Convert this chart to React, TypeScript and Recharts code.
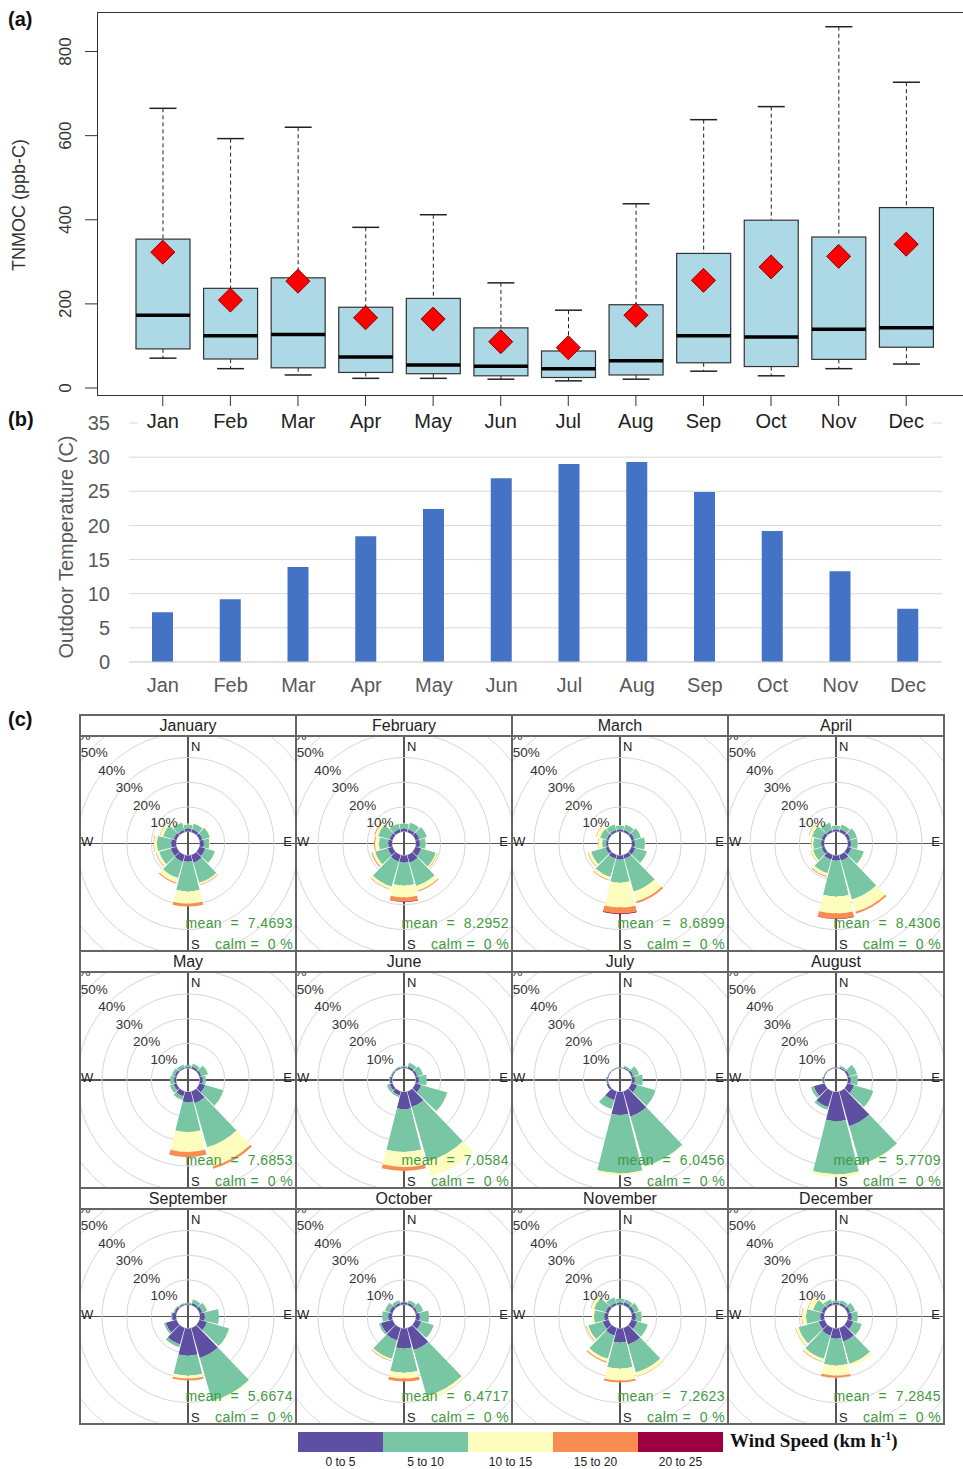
import React from 'react';
import {
  ComposedChart,
  Bar,
  Line,
  XAxis,
  YAxis,
  BarChart,
  CartesianGrid,
  RadialBarChart,
  RadialBar,
  PolarGrid,
  PolarAngleAxis,
  PolarRadiusAxis,
} from 'recharts';

const FONT = "'Liberation Sans', Arial, Helvetica, sans-serif";

const MONTHS = ['Jan', 'Feb', 'Mar', 'Apr', 'May', 'Jun', 'Jul', 'Aug', 'Sep', 'Oct', 'Nov', 'Dec'];
const MONTH_NAMES = [
  'January', 'February', 'March', 'April', 'May', 'June',
  'July', 'August', 'September', 'October', 'November', 'December',
];

// (a) TNMOC distribution per month (ppb-C)
const TNMOC_LOW = [71, 46, 31, 23, 23, 21, 17, 21, 40, 29, 46, 57];
const TNMOC_Q1 = [93, 69, 48, 37, 34, 29, 25, 31, 60, 51, 68, 97];
const TNMOC_MEDIAN = [173, 124, 127, 74, 55, 52, 46, 65, 124, 121, 140, 143];
const TNMOC_Q3 = [354, 237, 262, 192, 213, 143, 88, 198, 320, 399, 359, 429];
const TNMOC_HIGH = [665, 593, 620, 382, 412, 250, 185, 438, 638, 669, 859, 727];
const TNMOC_MEAN = [323, 209, 254, 167, 164, 110, 96, 173, 256, 288, 313, 342];
const TNMOC_TICKS = [0, 200, 400, 600, 800];

// (b) outdoor temperature (C)
const TEMPERATURE = [7.3, 9.2, 13.9, 18.4, 22.4, 26.9, 29.0, 29.3, 24.9, 19.2, 13.3, 7.8];
const TEMP_TICKS = [0, 5, 10, 15, 20, 25, 30, 35];

// (c) wind roses, 30 degree sectors, % of time per speed class
const ROSE_DIRS = ['N', 'NNE', 'ENE', 'E', 'ESE', 'SSE', 'S', 'SSW', 'WSW', 'W', 'WNW', 'NNW'];
const SPEED_BINS = ['0 to 5', '5 to 10', '10 to 15', '15 to 20', '20 to 25'];
const SPEED_COLORS = ['#5E4FA2', '#78C6A3', '#FDFDBD', '#F88D52', '#9E0142'];

const JAN_ROSE = [
  [1.2, 1.2, 1.2, 1.6, 2.4, 3.2, 2.4, 2.8, 2.4, 2.0, 1.2, 0.8],
  [1.6, 2.4, 3.2, 2.2, 4.1, 8.5, 12.2, 6.9, 4.9, 5.7, 4.5, 3.2],
  [0.4, 0.4, 0.4, 0.3, 0.4, 0.8, 4.9, 2.0, 1.2, 1.2, 1.2, 0.8],
  [0, 0, 0, 0, 0, 0.2, 1.2, 0.4, 0.2, 0.2, 0.2, 0],
  [0, 0, 0, 0, 0, 0, 0, 0, 0, 0, 0, 0],
];
const FEB_ROSE = [
  [1.2, 1.2, 1.6, 1.6, 2.4, 3.2, 2.8, 2.8, 2.0, 1.6, 1.2, 1.2],
  [2.0, 2.8, 3.2, 2.4, 6.1, 9.8, 9.4, 10.5, 5.3, 3.7, 4.9, 2.4],
  [0.2, 0.2, 0.2, 0.3, 0.6, 2.0, 4.8, 1.2, 1.2, 1.6, 1.2, 0.4],
  [0, 0, 0, 0, 0.2, 0.4, 1.7, 0.2, 0.4, 0.4, 0.4, 0],
  [0, 0, 0, 0, 0, 0, 0.2, 0, 0, 0, 0, 0],
];
const MAR_ROSE = [
  [0.8, 0.8, 1.2, 1.2, 1.6, 1.6, 1.6, 1.6, 1.2, 0.8, 0.8, 0.8],
  [1.6, 2.4, 2.8, 4.1, 4.9, 13.8, 9.4, 7.7, 6.1, 1.6, 2.8, 2.4],
  [0.2, 0.2, 0.2, 0.3, 0.4, 4.1, 10.1, 1.2, 1.2, 1.6, 1.6, 0.4],
  [0, 0, 0, 0, 0, 0.8, 2.4, 0.3, 0.2, 0.2, 0.2, 0],
  [0, 0, 0, 0, 0, 0, 0.3, 0, 0, 0, 0, 0],
];
const APR_ROSE = [
  [0.8, 1.2, 1.2, 1.2, 1.6, 2.4, 2.0, 2.0, 1.2, 1.2, 1.2, 0.8],
  [1.6, 2.0, 2.8, 2.8, 5.3, 16.3, 14.6, 5.7, 3.7, 3.2, 4.1, 3.2],
  [0.2, 0.2, 0.2, 0.2, 0.4, 5.2, 6.9, 1.2, 0.8, 0.8, 1.2, 0.4],
  [0, 0, 0, 0, 0, 0.8, 2.1, 0.4, 0.2, 0.2, 0.2, 0],
  [0, 0, 0, 0, 0, 0, 0.2, 0, 0, 0, 0, 0],
];
const MAY_ROSE = [
  [0.4, 0.8, 0.8, 1.2, 2.4, 4.9, 4.1, 2.0, 1.2, 0.8, 0.8, 0.4],
  [0.8, 1.2, 2.8, 1.2, 7.7, 18.6, 12.1, 1.6, 1.6, 1.6, 1.2, 1.2],
  [0, 0, 0.4, 0, 0.4, 8.1, 8.1, 0.2, 0, 0, 0, 0],
  [0, 0, 0, 0, 0, 0.9, 2.1, 0, 0, 0, 0, 0],
  [0, 0, 0, 0, 0, 0, 0, 0, 0, 0, 0, 0],
];
const JUN_ROSE = [
  [0.4, 0.8, 0.8, 1.2, 2.4, 6.5, 6.9, 1.6, 1.2, 0.8, 0.4, 0.4],
  [0.4, 1.6, 2.4, 3.2, 11.0, 23.1, 17.4, 0.8, 1.2, 0.4, 0.4, 0.4],
  [0, 0, 0, 0, 0.4, 6.1, 6.1, 0, 0, 0, 0, 0],
  [0, 0, 0, 0, 0, 0, 1.6, 0, 0, 0, 0, 0],
  [0, 0, 0, 0, 0, 0, 0, 0, 0, 0, 0, 0],
];
const JUL_ROSE = [
  [0.2, 0.4, 0.8, 1.2, 2.4, 10.5, 9.3, 3.7, 0.8, 0.4, 0.2, 0.2],
  [0.2, 0.8, 2.4, 3.2, 7.7, 21.1, 23.6, 3.7, 0, 0.4, 0.2, 0.2],
  [0, 0, 0, 0, 0, 0.4, 0.8, 0, 0, 0, 0, 0],
  [0, 0, 0, 0, 0, 0, 0, 0, 0, 0, 0, 0],
  [0, 0, 0, 0, 0, 0, 0, 0, 0, 0, 0, 0],
];
const AUG_ROSE = [
  [0.2, 0.4, 0.8, 1.2, 2.8, 14.6, 11.8, 6.5, 4.5, 0.4, 0.2, 0.2],
  [0.2, 0.8, 3.2, 2.8, 8.1, 16.2, 21.5, 1.2, 1.2, 0.4, 0.2, 0.2],
  [0, 0, 0, 0, 0, 0.4, 1.2, 0, 0, 0, 0, 0],
  [0, 0, 0, 0, 0, 0, 0, 0, 0, 0, 0, 0],
  [0, 0, 0, 0, 0, 0, 0, 0, 0, 0, 0, 0],
];
const SEP_ROSE = [
  [0.4, 0.8, 1.2, 2.0, 3.2, 12.6, 11.0, 6.9, 4.5, 1.6, 0.8, 0.4],
  [0.4, 1.6, 2.0, 5.7, 9.3, 18.2, 8.1, 1.2, 0.8, 0.4, 0.4, 0.4],
  [0, 0, 0, 0, 0.2, 0.8, 1.2, 0.2, 0, 0, 0, 0],
  [0, 0, 0, 0, 0, 0, 0.8, 0, 0, 0, 0, 0],
  [0, 0, 0, 0, 0, 0, 0, 0, 0, 0, 0, 0],
];
const OCT_ROSE = [
  [0.8, 0.8, 0.8, 1.6, 2.4, 9.3, 8.1, 5.3, 4.9, 1.6, 1.2, 0.8],
  [0.4, 1.2, 2.4, 3.7, 5.3, 19.5, 9.8, 7.7, 0.8, 2.4, 2.0, 1.2],
  [0, 0, 0, 0, 0.2, 1.2, 2.4, 0.8, 0, 0, 0, 0],
  [0, 0, 0, 0, 0, 0, 1.2, 0.2, 0, 0, 0, 0],
  [0, 0, 0, 0, 0, 0, 0, 0, 0, 0, 0, 0],
];
const NOV_ROSE = [
  [0.8, 1.2, 1.2, 1.6, 2.4, 6.9, 5.7, 3.2, 2.4, 1.6, 1.2, 0.8],
  [1.6, 1.2, 2.0, 2.4, 4.5, 11.8, 10.5, 9.8, 6.1, 4.1, 4.9, 2.4],
  [0, 0, 0.2, 0.2, 0.4, 1.6, 4.9, 1.2, 0.8, 0.8, 1.2, 0.2],
  [0, 0, 0, 0, 0, 0.2, 0.8, 0.4, 0.2, 0, 0.2, 0],
  [0, 0, 0, 0, 0, 0, 0, 0, 0, 0, 0, 0],
];
const DEC_ROSE = [
  [0.8, 0.8, 1.2, 1.6, 2.4, 5.7, 4.1, 3.2, 2.4, 1.6, 1.2, 0.8],
  [0.8, 1.2, 2.0, 2.4, 3.7, 9.3, 10.9, 9.8, 8.5, 5.7, 3.7, 1.6],
  [0, 0, 0, 0, 0.2, 1.2, 4.1, 1.2, 1.2, 1.6, 2.0, 0.4],
  [0, 0, 0, 0, 0, 0, 0.8, 0.2, 0.2, 0.2, 0.2, 0],
  [0, 0, 0, 0, 0, 0, 0, 0, 0, 0, 0, 0],
];
const ROSES = [
  JAN_ROSE, FEB_ROSE, MAR_ROSE, APR_ROSE, MAY_ROSE, JUN_ROSE,
  JUL_ROSE, AUG_ROSE, SEP_ROSE, OCT_ROSE, NOV_ROSE, DEC_ROSE,
];
const ROSE_MEANS = [
  '7.4693', '8.2952', '8.6899', '8.4306', '7.6853', '7.0584',
  '6.0456', '5.7709', '5.6674', '6.4717', '7.2623', '7.2845',
];

// panel grid of the wind roses
const COL_X = [80, 296, 512, 728, 944];
const ROW_Y = [715, 951, 1188, 1424];
const STRIP_H = 21;

const boxData = MONTHS.map((month, i) => ({
  month,
  low: TNMOC_LOW[i],
  q1: TNMOC_Q1[i],
  median: TNMOC_MEDIAN[i],
  q3: TNMOC_Q3[i],
  high: TNMOC_HIGH[i],
  mean: TNMOC_MEAN[i],
}));

const tempData = MONTHS.map((month, i) => ({ month, temp: TEMPERATURE[i] }));

function BoxShape(props: any) {
  const { x, y, width, height, payload } = props;
  const top = Math.min(y, y + height);
  const bottom = Math.max(y, y + height);
  const span = payload.high - payload.low;
  const py = (v: number) => bottom - ((v - payload.low) / span) * (bottom - top);
  const cx = x + width / 2;
  const cap = width / 4;
  return (
    <g>
      <line x1={cx} x2={cx} y1={py(payload.high)} y2={py(payload.q3)} stroke="#222" strokeDasharray="4 3" />
      <line x1={cx} x2={cx} y1={py(payload.q1)} y2={py(payload.low)} stroke="#222" strokeDasharray="4 3" />
      <line x1={cx - cap} x2={cx + cap} y1={py(payload.high)} y2={py(payload.high)} stroke="#222" strokeWidth={1.5} />
      <line x1={cx - cap} x2={cx + cap} y1={py(payload.low)} y2={py(payload.low)} stroke="#222" strokeWidth={1.5} />
      <rect
        x={x}
        y={py(payload.q3)}
        width={width}
        height={py(payload.q1) - py(payload.q3)}
        fill="#ADD8E6"
        stroke="#333"
        strokeWidth={1.2}
      />
      <line x1={x} x2={x + width} y1={py(payload.median)} y2={py(payload.median)} stroke="#000" strokeWidth={3.5} />
    </g>
  );
}

function DiamondDot(props: any) {
  const { cx, cy, index } = props;
  if (cx == null || cy == null) return null;
  const s = 12;
  return (
    <path
      key={`d-${index}`}
      d={`M${cx},${cy - s}L${cx + s},${cy}L${cx},${cy + s}L${cx - s},${cy}Z`}
      fill="#FF0000"
      stroke="#8B0000"
      strokeWidth={1}
    />
  );
}

function RotatedYTick(props: any) {
  const { x, y, payload } = props;
  const tx = x - 14;
  return (
    <text
      x={tx}
      y={y}
      transform={`rotate(-90, ${tx}, ${y})`}
      textAnchor="middle"
      dominantBaseline="central"
      fontSize={17}
      fill="#333"
      fontFamily={FONT}
    >
      {payload.value}
    </text>
  );
}

function RingLabel(props: any) {
  const { x, y, payload } = props;
  if (!payload || payload.value === 0) return null;
  return (
    <text
      x={x + 2}
      y={y + 5}
      textAnchor="middle"
      dominantBaseline="central"
      fontSize={13.5}
      fill="#333"
      fontFamily={FONT}
    >
      {`${payload.value}%`}
    </text>
  );
}

function RosePanel({ idx }: { idx: number }) {
  const col = idx % 4;
  const row = Math.floor(idx / 4);
  const left = COL_X[col];
  const w = COL_X[col + 1] - COL_X[col];
  const top = ROW_Y[row];
  const ph = ROW_Y[row + 1] - ROW_Y[row] - STRIP_H;
  const cx = w / 2;
  const cy = ph / 2;
  const rose = ROSES[idx];
  const rows = ROSE_DIRS.map((dir, i) => {
    const r: any = { dir };
    SPEED_BINS.forEach((_, k) => {
      r[`b${k}`] = rose[k][i];
    });
    return r;
  });
  const txt = { position: 'absolute' as const, fontSize: 13, color: '#222', lineHeight: '14px' };
  const green = { position: 'absolute' as const, right: 3, fontSize: 14, color: '#3f9a3f', lineHeight: '14px', whiteSpace: 'pre' as const, letterSpacing: 0.4 };
  return (
    <div style={{ position: 'absolute', left, top, width: w, height: STRIP_H + ph }}>
      <div
        style={{
          position: 'absolute', left: 0, top: 0, width: w, height: STRIP_H,
          textAlign: 'center', fontSize: 16, lineHeight: `${STRIP_H + 1}px`, color: '#222',
        }}
      >
        {MONTH_NAMES[idx]}
      </div>
      <div style={{ position: 'absolute', left: 0, top: STRIP_H, width: w, height: ph, overflow: 'hidden' }}>
        <div style={{ position: 'absolute', left: 0, top: cy - 0.75, width: w, height: 1.5, background: '#555' }} />
        <div style={{ position: 'absolute', left: cx - 0.75, top: 0, width: 1.5, height: ph, background: '#555' }} />
        <div style={{ position: 'absolute', left: 0, top: 0 }}>
          <RadialBarChart
            width={w}
            height={ph}
            cx={cx}
            cy={cy}
            innerRadius={12}
            outerRadius={160}
            startAngle={75}
            endAngle={-285}
            layout="centric"
            barCategoryGap="3%"
            data={rows}
            margin={{ top: 0, right: 0, bottom: 0, left: 0 }}
          >
            <PolarGrid gridType="circle" radialLines={false} stroke="#d6d6d6" />
            <PolarAngleAxis type="category" dataKey="dir" tick={false} axisLine={false} tickLine={false} />
            <PolarRadiusAxis
              type="number"
              domain={[0, 60]}
              tickCount={7}
              angle={135}
              axisLine={false}
              tickLine={false}
              tick={RingLabel}
            />
            {SPEED_BINS.map((bin, k) => (
              <RadialBar
                key={bin}
                dataKey={`b${k}`}
                stackId="ws"
                fill={SPEED_COLORS[k]}
                isAnimationActive={false}
              />
            ))}
          </RadialBarChart>
        </div>
        <div style={{ ...txt, left: cx + 3, top: 4 }}>N</div>
        <div style={{ ...txt, left: cx + 3, top: ph - 13 }}>S</div>
        <div style={{ ...txt, left: 1, top: cy - 9 }}>W</div>
        <div style={{ ...txt, right: 4, top: cy - 9 }}>E</div>
        <div style={{ ...green, top: ph - 35 }}>{`mean  =  ${ROSE_MEANS[idx]}`}</div>
        <div style={{ ...green, top: ph - 14 }}>{'calm =  0 %'}</div>
      </div>
    </div>
  );
}

function GridLines() {
  const lines: React.ReactNode[] = [];
  const x0 = COL_X[0];
  const x1 = COL_X[COL_X.length - 1];
  const y0 = ROW_Y[0];
  const y1 = ROW_Y[ROW_Y.length - 1];
  COL_X.forEach((x, i) => {
    lines.push(
      <div key={`v${i}`} style={{ position: 'absolute', left: x - 1, top: y0 - 1, width: 2, height: y1 - y0 + 2, background: '#666' }} />
    );
  });
  ROW_Y.forEach((y, i) => {
    lines.push(
      <div key={`h${i}`} style={{ position: 'absolute', left: x0 - 1, top: y - 1, width: x1 - x0 + 2, height: 2, background: '#666' }} />
    );
    if (i < ROW_Y.length - 1) {
      lines.push(
        <div key={`s${i}`} style={{ position: 'absolute', left: x0 - 1, top: y + STRIP_H - 1, width: x1 - x0 + 2, height: 2, background: '#666' }} />
      );
    }
  });
  return <>{lines}</>;
}

export default function App() {
  return (
    <div
      style={{
        position: 'absolute', left: 0, top: 0, width: 963, height: 1469,
        overflow: 'hidden', background: '#fff', fontFamily: FONT,
      }}
    >
      {/* (b) temperature bars */}
      <div style={{ position: 'absolute', left: 0, top: 400 }}>
        <BarChart width={963} height={320} data={tempData} margin={{ top: 23, right: 21, left: 0, bottom: 0 }}>
          <CartesianGrid vertical={false} stroke="#D9D9D9" />
          <XAxis
            dataKey="month"
            height={58}
            tickSize={0}
            tickMargin={16}
            axisLine={{ stroke: '#D9D9D9' }}
            tick={{ fontSize: 20, fill: '#595959', fontFamily: FONT }}
          />
          <YAxis
            width={129}
            domain={[0, 35]}
            ticks={TEMP_TICKS}
            tickSize={0}
            tickMargin={19}
            axisLine={false}
            tickLine={false}
            tick={{ fontSize: 20, fill: '#595959', fontFamily: FONT }}
          />
          <Bar dataKey="temp" fill="#4472C4" barSize={21} isAnimationActive={false} />
        </BarChart>
      </div>
      <div style={{ position: 'absolute', left: 138, top: 413, width: 794, height: 19, background: '#fff' }} />
      <div
        style={{
          position: 'absolute', left: 66, top: 547, transform: 'translate(-50%, -50%) rotate(-90deg)',
          fontSize: 20, color: '#595959', whiteSpace: 'nowrap',
        }}
      >
        Outdoor Temperature (C)
      </div>

      {/* (a) TNMOC box plot */}
      <div style={{ position: 'absolute', left: 0, top: 0 }}>
        <ComposedChart width={980} height={440} data={boxData} margin={{ top: 12, right: 8, left: 0, bottom: 0 }}>
          <XAxis
            dataKey="month"
            height={44}
            padding={{ left: 32, right: 32 }}
            axisLine={false}
            tickSize={10}
            tickMargin={8}
            tickLine={{ stroke: '#333' }}
            tick={{ fontSize: 20, fill: '#222', fontFamily: FONT }}
          />
          <YAxis
            width={97}
            type="number"
            domain={[-19, 894]}
            ticks={TNMOC_TICKS}
            allowDataOverflow
            axisLine={false}
            tickSize={12}
            tickMargin={5}
            tickLine={{ stroke: '#333' }}
            tick={RotatedYTick}
          />
          <Bar
            dataKey={(d: any) => [d.low, d.high]}
            barSize={54}
            shape={BoxShape}
            isAnimationActive={false}
          />
          <Line
            dataKey="mean"
            stroke="none"
            dot={DiamondDot}
            activeDot={false}
            isAnimationActive={false}
          />
        </ComposedChart>
      </div>
      <div
        style={{
          position: 'absolute', left: 97, top: 12, width: 900, height: 384,
          border: '1.5px solid #333', boxSizing: 'border-box', pointerEvents: 'none',
        }}
      />
      <div
        style={{
          position: 'absolute', left: 19, top: 205, transform: 'translate(-50%, -50%) rotate(-90deg)',
          fontSize: 18, color: '#333', whiteSpace: 'nowrap',
        }}
      >
        TNMOC (ppb-C)
      </div>

      {/* panel letters */}
      <div style={{ position: 'absolute', left: 8, top: 8, fontSize: 20, fontWeight: 'bold', color: '#111' }}>(a)</div>
      <div style={{ position: 'absolute', left: 8, top: 408, fontSize: 20, fontWeight: 'bold', color: '#111' }}>(b)</div>
      <div style={{ position: 'absolute', left: 8, top: 708, fontSize: 20, fontWeight: 'bold', color: '#111' }}>(c)</div>

      {/* (c) wind roses */}
      {MONTH_NAMES.map((_, i) => (
        <RosePanel key={i} idx={i} />
      ))}
      <GridLines />

      {/* wind speed colour key */}
      {SPEED_BINS.map((bin, k) => (
        <React.Fragment key={bin}>
          <div style={{ position: 'absolute', left: 298 + k * 85, top: 1432, width: 85, height: 20, background: SPEED_COLORS[k] }} />
          <div
            style={{
              position: 'absolute', left: 298 + k * 85, top: 1455, width: 85, textAlign: 'center',
              fontSize: 12, color: '#222',
            }}
          >
            {bin}
          </div>
        </React.Fragment>
      ))}
      <div
        style={{
          position: 'absolute', left: 730, top: 1429, fontSize: 19, fontWeight: 'bold', color: '#111',
          fontFamily: "'Liberation Serif', 'Times New Roman', serif", whiteSpace: 'nowrap',
        }}
      >
        Wind Speed (km h<sup style={{ fontSize: 12 }}>-1</sup>)
      </div>
    </div>
  );
}
